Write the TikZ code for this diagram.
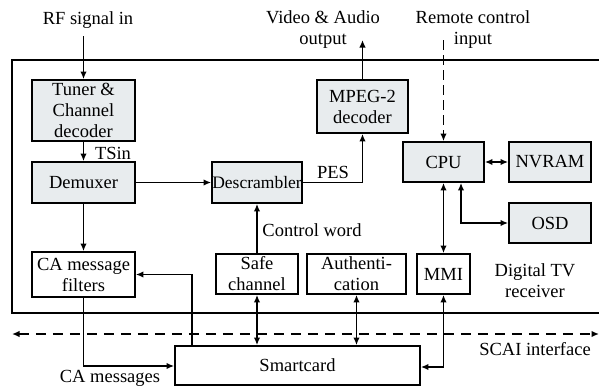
\documentclass[tikz,border=0pt]{standalone}
\usepackage{fontspec}
\setmainfont{Liberation Serif}
\usetikzlibrary{arrows.meta}
\definecolor{boxgray}{RGB}{232,236,238}
\begin{document}
\begin{tikzpicture}[x=1pt,y=-1pt,
  font=\fontsize{18.5}{21}\selectfont,
  base/.style={draw, line width=1.8pt, inner sep=0pt, align=center},
  gbox/.style={base, fill=boxgray},
  wbox/.style={base, fill=white},
  tip/.style={Latex[length=7.5pt,width=6.5pt]},
  conn/.style={line width=1.6pt, -{Latex[length=7.5pt,width=6.5pt]}},
  bidir/.style={line width=1.6pt, {Latex[length=7.5pt,width=6.5pt]}-{Latex[length=7.5pt,width=6.5pt]}},
  lbl/.style={inner sep=0pt, align=center}]
\useasboundingbox (0,0) rectangle (599,388);

% receiver enclosure (open on the right)
\draw[line width=1.5pt] (600,60) -- (12,60) -- (12,313) -- (600,313);

% processing blocks
\node[gbox, minimum width=103, minimum height=61] (tuner) at (83.5,110.5) {Tuner \&\\Channel\\decoder};
\node[gbox, minimum width=103, minimum height=41] (demux) at (83.5,182.5) {Demuxer};
\node[gbox, minimum width=90, minimum height=41, font=\fontsize{17.5}{20}\selectfont] (descr) at (257,182.5) {Descrambler};
\node[gbox, minimum width=91, minimum height=53] (mpeg) at (362.5,106.5) {MPEG-2\\decoder};
\node[gbox, minimum width=81, minimum height=40] (cpu) at (443.5,162) {CPU};
\node[gbox, minimum width=82, minimum height=40] (nvram) at (550,162) {NVRAM};
\node[gbox, minimum width=82, minimum height=40] (osd) at (550,223) {OSD};

\node[wbox, minimum width=103, minimum height=45] (cafilt) at (83.5,274.5) {CA message\\filters};
\node[wbox, minimum width=82, minimum height=40] (safe) at (257,274) {Safe\\channel};
\node[wbox, minimum width=99, minimum height=40] (auth) at (356.5,274) {Authenti-\\cation};
\node[wbox, minimum width=53, minimum height=40] (mmi) at (443.5,274) {MMI};
\node[wbox, minimum width=245, minimum height=39] (smart) at (297.5,365.5) {Smartcard};

% free ends of the external connections
\coordinate (rfin) at (83.5,36);
\coordinate (avout) at (362.5,40);
\coordinate (rcin) at (443.5,40);
\coordinate (scaiL) at (12,334);
\coordinate (scaiR) at (599,334);

% labels
\node[lbl] (rflbl) at (88,20) {RF signal in};
\node[lbl] (avlbl) at (323,30) {Video \& Audio\\output};
\node[lbl] (rclbl) at (473,30) {Remote control\\input};
\node[lbl] (tslbl) at (113,153) {TSin};
\node[lbl] (peslbl) at (333,172) {PES};
\node[lbl] (cwlbl) at (312,230) {Control word};
\node[lbl] (dtvlbl) at (535,281) {Digital TV\\receiver};
\node[lbl] (scailbl) at (535,349) {SCAI interface};
\node[lbl] (camlbl) at (110,378) {CA messages};

% signal path
\draw[conn] (rfin) -- (tuner.north);
\draw[conn] (tuner.south) -- (demux.north);
\draw[conn] (demux.east) -- (descr.west);
\draw[conn] (descr.east) -| (mpeg.south);
\draw[conn] (mpeg.north) -- (avout);
\draw[conn] (demux.south) -- (cafilt.north);
\draw[conn] (safe.north) -- (descr.south);

% control processor
\draw[conn, dash pattern=on 10pt off 5pt] (rcin) -- (cpu.north);
\draw[bidir] (cpu.east) -- (nvram.west);
\draw[bidir] ([xshift=17.5]cpu.south) |- (osd.west);
\draw[bidir] (cpu.south) -- (mmi.north);

% smartcard interface
\draw[conn] ([xshift=18]smart.north west) |- (cafilt.east);
\draw[conn] (cafilt.south) |- ([yshift=-0.5]smart.west);
\draw[bidir] (safe.south) -- (safe.south |- smart.north);
\draw[bidir] (auth.south) -- (auth.south |- smart.north);
\draw[bidir] (mmi.south) |- ([yshift=-1.5]smart.east);
\draw[bidir, dash pattern=on 10pt off 7pt] (scaiL) -- (scaiR);
\end{tikzpicture}
\end{document}
